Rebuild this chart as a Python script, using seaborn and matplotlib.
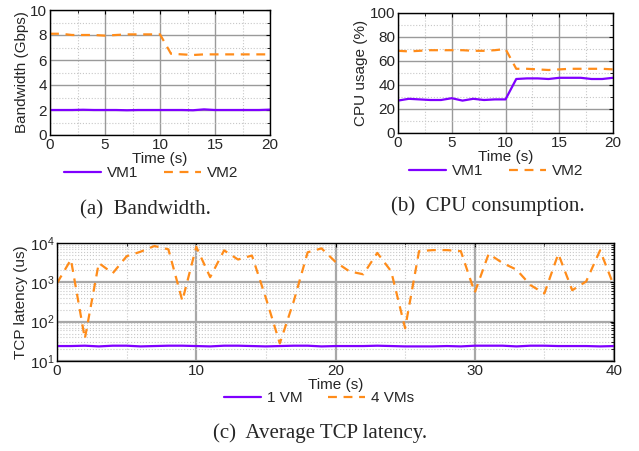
import numpy as np
import pandas as pd
import matplotlib
matplotlib.use("Agg")
import matplotlib.pyplot as plt
import seaborn as sns
from matplotlib.ticker import MultipleLocator, LogLocator, NullFormatter
from matplotlib.lines import Line2D

# ---------------- data ----------------
t20 = list(range(0, 21))
bw_vm1 = [2.0, 2.0, 2.0, 2.02, 2.0, 2.0, 2.0, 1.98, 2.0, 2.0, 2.0, 2.0, 2.0, 1.98, 2.05, 2.0, 2.0, 2.0, 2.0, 2.0, 2.03]
bw_vm2 = [8.1, 8.1, 8.0, 8.0, 8.0, 7.95, 8.0, 8.05, 8.05, 8.05, 8.05, 6.5, 6.45, 6.4, 6.45, 6.45, 6.45, 6.45, 6.45, 6.45, 6.45]
cpu_vm1 = [27, 28.5, 28, 27.5, 27.5, 29, 27, 28.5, 27.5, 28, 28, 45, 45.5, 45.5, 45, 46, 46, 46, 45, 45, 46]
cpu_vm2 = [68.5, 68, 68.5, 69, 69, 69, 69, 68.5, 68.5, 69, 70, 53.5, 53.5, 53, 52.5, 53, 53.5, 53.5, 53.5, 53.5, 53]
t40 = list(range(0, 41))
lat_1vm = [24, 24, 24.5, 23.5, 24.5, 24.5, 23.5, 24, 24.5, 24.5, 24, 23.5, 24.5, 24.5, 24, 23.5, 24, 24.5, 24.5, 23.5, 24,
           24, 24, 24.5, 24, 23.5, 23.5, 23.5, 24, 23.5, 24.5, 24.5, 24.5, 23.5, 24.5, 24.5, 24, 24, 24, 23.5, 24]
lat_4vm = [950, 3800, 37, 3100, 1700, 4600, 6000, 8400, 6900, 340, 8000, 1350, 6500, 3800, 4800, 400, 28, 330, 5800, 7300, 3300,
           1900, 1600, 5600, 1900, 68, 6200, 6600, 6600, 6200, 550, 5300, 3100, 2100, 850, 520, 5300, 630, 1050, 6500, 800]

PURPLE = "#7F00FF"
ORANGE = "#FF8C1A"
FS = 11

sns.set_style("white")
plt.rcParams['font.family'] = ['Liberation Sans', 'DejaVu Sans']
plt.rcParams['mathtext.fontset'] = 'custom'
plt.rcParams['mathtext.rm'] = 'Liberation Sans'

W, H = 639, 451
fig = plt.figure(figsize=(W / 100, H / 100), dpi=100)

def axpx(l, r, t, b):
    return fig.add_axes([l / W, 1 - b / H, (r - l) / W, (b - t) / H])

def style(ax):
    for s in ax.spines.values():
        s.set_color("black")
        s.set_linewidth(1.0)
    ax.tick_params(which="both", direction="in", top=True, right=True, labelsize=FS, pad=2, color="black")
    ax.tick_params(which="major", length=3)
    ax.tick_params(which="minor", length=2)
    ax.grid(True, which="major", color="#9a9a9a", linewidth=1.0, linestyle="-")
    ax.grid(True, which="minor", color="#c8c8c8", linewidth=0.8, linestyle=":")
    ax.set_axisbelow(True)

# ---------- (a) Bandwidth ----------
ax1 = axpx(50, 270, 10, 135)
df_a = pd.DataFrame({"Time": t20 * 2, "val": bw_vm1 + bw_vm2, "VM": ["VM1"] * 21 + ["VM2"] * 21})
sns.lineplot(data=df_a, x="Time", y="val", hue="VM", style="VM", palette=[PURPLE, ORANGE],
             dashes=[(None, None), (4, 3)], linewidth=1.6, ax=ax1, legend=False)
ax1.set_xlim(0, 20); ax1.set_ylim(0, 10)
ax1.xaxis.set_major_locator(MultipleLocator(5)); ax1.xaxis.set_minor_locator(MultipleLocator(2.5))
ax1.yaxis.set_major_locator(MultipleLocator(2)); ax1.yaxis.set_minor_locator(MultipleLocator(1))
style(ax1)
ax1.set_xlabel("Time (s)", fontsize=FS, labelpad=0)
ax1.set_ylabel("Bandwidth (Gbps)", fontsize=FS, labelpad=1)

# ---------- (b) CPU ----------
ax2 = axpx(398, 613, 13, 133)
df_b = pd.DataFrame({"Time": t20 * 2, "val": cpu_vm1 + cpu_vm2, "VM": ["VM1"] * 21 + ["VM2"] * 21})
sns.lineplot(data=df_b, x="Time", y="val", hue="VM", style="VM", palette=[PURPLE, ORANGE],
             dashes=[(None, None), (4, 3)], linewidth=1.6, ax=ax2, legend=False)
ax2.set_xlim(0, 20); ax2.set_ylim(0, 100)
ax2.xaxis.set_major_locator(MultipleLocator(5)); ax2.xaxis.set_minor_locator(MultipleLocator(2.5))
ax2.yaxis.set_major_locator(MultipleLocator(20)); ax2.yaxis.set_minor_locator(MultipleLocator(10))
style(ax2)
ax2.set_xlabel("Time (s)", fontsize=FS, labelpad=0)
ax2.set_ylabel("CPU usage (%)", fontsize=FS, labelpad=1)

# ---------- (c) Latency ----------
ax3 = axpx(57, 614, 243, 361)
df_c = pd.DataFrame({"Time": t40 * 2, "val": lat_1vm + lat_4vm, "VM": ["1 VM"] * 41 + ["4 VMs"] * 41})
sns.lineplot(data=df_c, x="Time", y="val", hue="VM", style="VM", palette=[PURPLE, ORANGE],
             dashes=[(None, None), (4, 3)], linewidth=1.6, ax=ax3, legend=False)
ax3.set_yscale("log")
ax3.set_xlim(0, 40); ax3.set_ylim(10, 1e4)
ax3.xaxis.set_major_locator(MultipleLocator(10)); ax3.xaxis.set_minor_locator(MultipleLocator(5))
ax3.yaxis.set_major_locator(LogLocator(base=10, numticks=10))
ax3.yaxis.set_minor_locator(LogLocator(base=10, subs=np.arange(2, 10), numticks=20))
ax3.yaxis.set_minor_formatter(NullFormatter())
style(ax3)
ax3.grid(True, which="major", color="#a8a8a8", linewidth=1.6, linestyle="-")
ax3.set_xlabel("Time (s)", fontsize=FS, labelpad=0)
ax3.set_ylabel("TCP latency (us)", fontsize=FS, labelpad=1)

# ---------- legends ----------
def leg(labels, cx, cy):
    h = [Line2D([], [], color=PURPLE, lw=1.6), Line2D([], [], color=ORANGE, lw=1.6, dashes=(4, 3))]
    fig.legend(h, labels, loc="center", bbox_to_anchor=(cx / W, 1 - cy / H), ncol=2, frameon=False,
               fontsize=FS, handlelength=2.4, columnspacing=1.7, handletextpad=0.4, borderaxespad=0, borderpad=0)

leg(["VM1", "VM2"], 151, 173)
leg(["VM1", "VM2"], 496, 171)
leg(["1 VM", "4 VMs"], 319, 398)

# ---------- captions ----------
cap = dict(family=["Liberation Serif", "DejaVu Serif"], fontsize=15, ha="center", va="center")
fig.text(145 / W, 1 - 210 / H, "(a)  Bandwidth.", **cap)
fig.text(488 / W, 1 - 206 / H, "(b)  CPU consumption.", **cap)
fig.text(320 / W, 1 - 433 / H, "(c)  Average TCP latency.", **cap)

fig.savefig("out.png", dpi=100)
